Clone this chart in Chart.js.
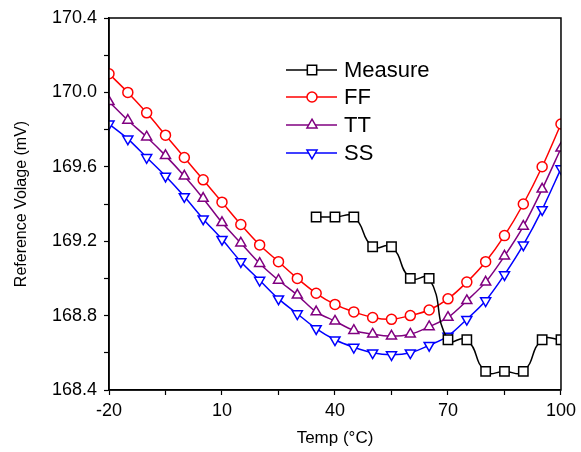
<!DOCTYPE html>
<html>
<head>
<meta charset="utf-8">
<script src="https://cdn.jsdelivr.net/npm/chart.js@4/dist/chart.umd.min.js"></script>
<style>
  body { margin: 0; background: #fff; }
  canvas { display: block; }
</style>
</head>
<body>
<canvas id="refChart" width="581" height="452"></canvas>
<script>
// Simulated temps (every 5 degC)
const temps = [-20, -15, -10, -5, 0, 5, 10, 15, 20, 25, 30, 35, 40, 45, 50, 55, 60, 65, 70, 75, 80, 85, 90, 95, 100];
const ffValues = [170.10, 170.00, 169.89, 169.77, 169.65, 169.53, 169.41, 169.29, 169.18, 169.09, 169.00, 168.92, 168.86,
  168.82, 168.79, 168.78, 168.80, 168.83, 168.89, 168.98, 169.09, 169.23, 169.40, 169.60, 169.83];
const ttValues = [169.95, 169.85, 169.76, 169.66, 169.55, 169.43, 169.30, 169.19, 169.08, 168.99, 168.91, 168.82, 168.77,
  168.72, 168.70, 168.69, 168.70, 168.74, 168.79, 168.88, 168.98, 169.12, 169.28, 169.48, 169.70];
const ssValues = [169.83, 169.75, 169.65, 169.55, 169.44, 169.32, 169.21, 169.09, 168.99, 168.89, 168.81, 168.73, 168.67,
  168.63, 168.60, 168.59, 168.60, 168.64, 168.69, 168.78, 168.88, 169.02, 169.18, 169.37, 169.59];

// Measured points
const measureTemps = [35, 40, 45, 50, 55, 60, 65, 70, 75, 80, 85, 90, 95, 100];
const measureValues = [169.33, 169.33, 169.33, 169.17, 169.17, 169.00, 169.00, 168.67, 168.67, 168.50, 168.50, 168.50, 168.67, 168.67];

// Axis labels
const xLabels = [-20, 10, 40, 70, 100];
const yLabels = [168.4, 168.8, 169.2, 169.6, 170.0, 170.4];

const FONT = 'Arial, "Liberation Sans", sans-serif';

const toPoints = (xs, ys) => xs.map((x, i) => ({ x: x, y: ys[i] }));

const makeSeries = (label, xs, ys, color, style, radius, rotation, tension) => ({
  label: label,
  data: toPoints(xs, ys),
  borderColor: color,
  backgroundColor: '#fff',
  borderWidth: 1.5,
  pointStyle: style,
  pointRadius: radius,
  pointRotation: rotation,
  pointBorderColor: color,
  pointBackgroundColor: '#fff',
  pointBorderWidth: 1.5,
  tension: tension
});

const datasets = [
  makeSeries('Measure', measureTemps, measureValues, '#000000', 'rect', 6.6, 0, 0.5),
  makeSeries('FF', temps, ffValues, '#ff0000', 'circle', 5, 0, 0.3),
  makeSeries('TT', temps, ttValues, '#800080', 'triangle', 5.8, 0, 0.3),
  makeSeries('SS', temps, ssValues, '#0000ff', 'triangle', 5.8, 180, 0.3)
];

// box round the plot + legend drawn inside the plot
const framePlugin = {
  id: 'frame',
  afterDraw(chart) {
    const { ctx, chartArea } = chart;
    ctx.save();
    ctx.strokeStyle = '#000';
    ctx.lineWidth = 1.5;
    ctx.strokeRect(chartArea.left, chartArea.top, chartArea.right - chartArea.left, chartArea.bottom - chartArea.top);

    const rowY = [70, 97, 125, 153];
    ctx.font = '22px ' + FONT;
    ctx.textBaseline = 'middle';
    chart.data.datasets.forEach((ds, i) => {
      const y = rowY[i];
      ctx.strokeStyle = ds.borderColor;
      ctx.lineWidth = 1.5;
      ctx.beginPath();
      ctx.moveTo(286, y);
      ctx.lineTo(337, y);
      ctx.stroke();
      ctx.fillStyle = '#fff';
      ctx.strokeStyle = ds.borderColor;
      Chart.helpers.drawPoint(ctx, {
        pointStyle: ds.pointStyle,
        radius: ds.pointRadius,
        rotation: ds.pointRotation,
        borderWidth: 1.5
      }, 312, y);
      ctx.fillStyle = '#000';
      ctx.fillText(ds.label, 344, y + 1);
    });
    ctx.restore();
  }
};

new Chart(document.getElementById('refChart').getContext('2d'), {
  type: 'line',
  data: { datasets: datasets },
  options: {
    responsive: false,
    animation: false,
    layout: { padding: { left: 0, top: 18, right: 16, bottom: 0 } },
    plugins: {
      legend: { display: false },
      tooltip: { enabled: false }
    },
    scales: {
      x: {
        type: 'linear',
        min: -20,
        max: 100,
        afterFit: (scale) => { scale.height = 62; },
        border: { color: '#000', width: 1.5 },
        grid: { drawOnChartArea: false, color: '#000', tickLength: 5, tickWidth: 1.2 },
        ticks: {
          stepSize: 15,
          autoSkip: false,
          maxRotation: 0,
          padding: 5,
          color: '#000',
          font: { family: FONT, size: 18 },
          callback: (v) => xLabels.includes(v) ? String(v) : ''
        },
        title: {
          display: true,
          text: 'Temp (°C)',
          color: '#000',
          font: { family: FONT, size: 17 },
          padding: { top: 0, bottom: 3 }
        }
      },
      y: {
        min: 168.4,
        max: 170.4,
        afterFit: (scale) => { scale.width = 109; },
        border: { color: '#000', width: 1.5 },
        grid: { drawOnChartArea: false, color: '#000', tickLength: 5, tickWidth: 1.2 },
        ticks: {
          stepSize: 0.2,
          autoSkip: false,
          padding: 7,
          color: '#000',
          font: { family: FONT, size: 18 },
          callback: (v) => yLabels.some(l => Math.abs(l - v) < 1e-6) ? v.toFixed(1) : ''
        },
        title: {
          display: true,
          text: 'Reference Volage (mV)',
          color: '#000',
          font: { family: FONT, size: 16 },
          padding: { top: 12, bottom: 0 }
        }
      }
    }
  },
  plugins: [framePlugin]
});
</script>
</body>
</html>
